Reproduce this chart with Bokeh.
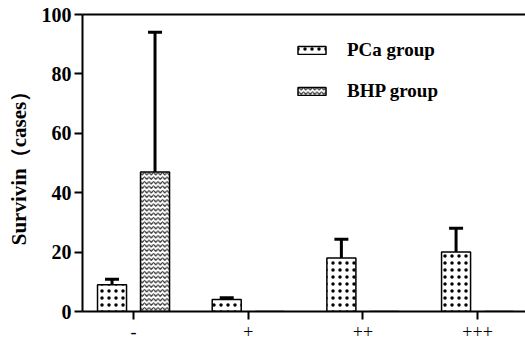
from bokeh.plotting import figure
from bokeh.models import (ColumnDataSource, Whisker, TeeHead, Legend, LegendItem,
                          LinearAxis, FixedTicker, Range1d)
from bokeh.transform import dodge
from bokeh.embed import file_html
from bokeh.resources import INLINE

categories = ["-", "+", "++", "+++"]
pca_mean = [9, 4, 18, 20]
pca_upper = [10.9, 4.6, 24.3, 28]
bhp_mean = [47, 0, 0, 0]
bhp_upper = [94, None, None, None]

xs = list(range(len(categories)))
FONT = "Liberation Serif"

p = figure(width=525, height=345, output_backend="svg", toolbar_location=None,
           x_range=Range1d(-0.445, 3.418), y_range=Range1d(0, 100),
           min_border_left=82, min_border_right=0, min_border_top=14, min_border_bottom=34)
p.grid.visible = False
p.outline_line_color = None
p.background_fill_color = "white"
p.border_fill_color = "white"

pca_src = ColumnDataSource(dict(x=xs, top=pca_mean, upper=pca_upper))
bhp_src = ColumnDataSource(dict(x=xs, top=bhp_mean))

r_pca = p.vbar(x=dodge("x", -0.1875), top="top", width=0.253, source=pca_src,
               fill_color="white", line_color="black", line_width=1.5,
               hatch_pattern="dot", hatch_color="black", hatch_scale=7, hatch_weight=1.0)
r_bhp = p.vbar(x=dodge("x", 0.1875), top="top", width=0.253, source=bhp_src,
               fill_color="white", line_color="black", line_width=1.5,
               hatch_pattern="horizontal_wave", hatch_color="#222222", hatch_scale=4.5, hatch_weight=1.1)

pca_w = ColumnDataSource(dict(x=[x - 0.1875 for x in xs], base=pca_mean, upper=pca_upper))
bx = [x + 0.1875 for x, u in zip(xs, bhp_upper) if u is not None]
bb = [m for m, u in zip(bhp_mean, bhp_upper) if u is not None]
bu = [u for u in bhp_upper if u is not None]
bhp_w = ColumnDataSource(dict(x=bx, base=bb, upper=bu))
for src in (pca_w, bhp_w):
    w = Whisker(base="x", lower="base", upper="upper", source=src, dimension="height",
                line_width=3, line_color="black",
                upper_head=TeeHead(size=14, line_width=3, line_color="black"),
                lower_head=None)
    p.add_layout(w)

# axes
p.yaxis.ticker = FixedTicker(ticks=[0, 20, 40, 60, 80, 100])
p.yaxis.minor_tick_line_color = None
p.yaxis.major_tick_out = 8
p.yaxis.major_tick_in = 0
p.yaxis.major_tick_line_width = 2
p.yaxis.axis_line_width = 2
p.yaxis.major_label_text_font = FONT
p.yaxis.major_label_text_font_style = "bold"
p.yaxis.major_label_text_font_size = "20px"
p.yaxis.major_label_text_color = "black"
p.yaxis.major_label_standoff = 3
p.yaxis.axis_label = "Survivin（cases）"
p.yaxis.axis_label_text_font = FONT
p.yaxis.axis_label_text_font_style = "bold"
p.yaxis.axis_label_text_font_size = "21px"
p.yaxis.axis_label_text_color = "black"
p.yaxis.axis_label_standoff = 8

p.xaxis.ticker = FixedTicker(ticks=xs)
p.xaxis.major_label_overrides = {i: c for i, c in zip(xs, categories)}
p.xaxis.minor_tick_line_color = None
p.xaxis.major_tick_out = 8
p.xaxis.major_tick_in = 0
p.xaxis.major_tick_line_width = 2
p.xaxis.axis_line_width = 2
p.xaxis.major_label_text_font = FONT
p.xaxis.major_label_text_font_size = "18px"
p.xaxis.major_label_text_color = "black"
p.xaxis.major_label_standoff = 5

top_axis = LinearAxis(ticker=FixedTicker(ticks=[]), axis_line_width=2,
                      major_tick_line_color=None, minor_tick_line_color=None,
                      major_label_text_font_size="0px")
p.add_layout(top_axis, "above")

legend = Legend(items=[LegendItem(label="PCa group", renderers=[r_pca]),
                       LegendItem(label="BHP group", renderers=[r_bhp])],
                location=(212, 209), orientation="vertical",
                glyph_width=35, glyph_height=10, label_standoff=18,
                label_text_font=FONT, label_text_font_style="bold",
                label_text_font_size="19px", label_text_color="black",
                spacing=19, padding=10, margin=0,
                border_line_color=None, background_fill_alpha=0)
p.add_layout(legend)

open("out.html", "w").write(file_html(p, INLINE))
